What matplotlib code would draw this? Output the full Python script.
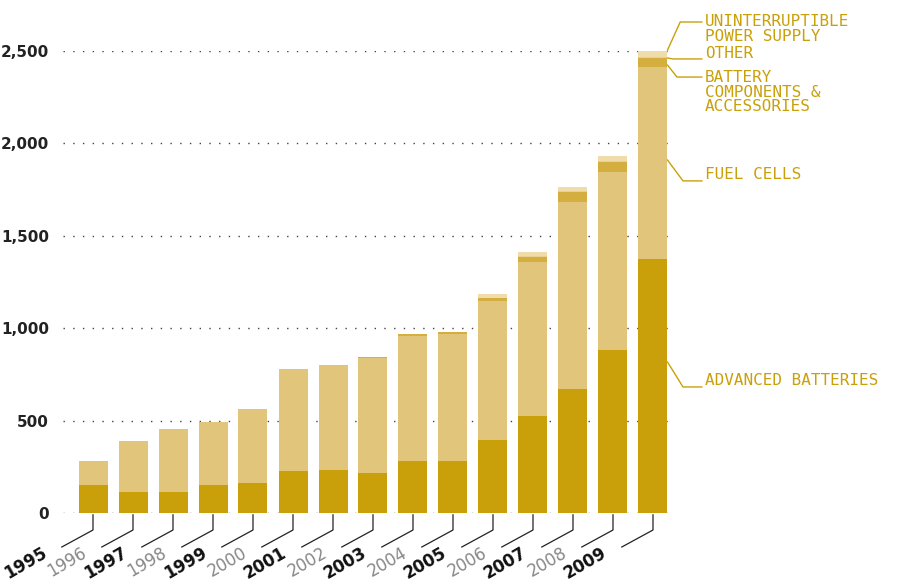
import matplotlib.pyplot as plt
import numpy as np

years = ['1995', '1996', '1997', '1998', '1999', '2000', '2001', '2002',
         '2003', '2004', '2005', '2006', '2007', '2008', '2009']
advanced = [151, 114, 114, 151, 162, 227, 233, 216, 281, 281, 395, 525, 671, 882, 1374]
fuel_cells = [130, 276, 341, 341, 401, 552, 568, 625, 676, 687, 752, 833, 1012, 963, 1039]
battery_comp = [0, 0, 0, 0, 0, 0, 0, 5, 12, 12, 15, 25, 52, 54, 47]
other = [0, 0, 0, 0, 0, 0, 0, 0, 0, 0, 4, 5, 5, 5, 5]
ups = [0, 0, 0, 0, 0, 0, 0, 0, 0, 0, 18, 25, 25, 27, 37]

series = [
    ('ADVANCED BATTERIES', advanced, '#c9a00a'),
    ('FUEL CELLS', fuel_cells, '#e0c57b'),
    ('BATTERY\nCOMPONENTS &\nACCESSORIES', battery_comp, '#d5ae40'),
    ('OTHER', other, '#e8d08f'),
    ('UNINTERRUPTIBLE\nPOWER SUPPLY', ups, '#f0dcab'),
]

# label leaders: start on bar edge, elbow y, text baseline (last line) y
leader_start = [817, 1910, 2424, 2462, 2505]
leader_elbow = [682, 1797, 2359, 2457, 2657]
leader_elbow_x = [14.75, 14.75, 14.6, 14.5, 14.68]
text_base = [690, 1805, 2175, 2460, 2556]

gold = '#c9a00a'
width = 0.725

fig = plt.figure(figsize=(9.14, 5.84), dpi=100)
ax = fig.add_axes([63 / 914, 71 / 584, 606 / 914, 462 / 584])

x = np.arange(len(years))
bottom = np.zeros(len(years))
for name, vals, col in series:
    ax.bar(x, vals, width, bottom=bottom, color=col, edgecolor='none', zorder=2)
    bottom += np.array(vals)

ax.set_xlim(-0.75, 14.4)
ax.set_ylim(0, 2500)
ax.set_yticks([0, 500, 1000, 1500, 2000, 2500])
ax.set_yticklabels(['0', '500', '1,000', '1,500', '2,000', '2,500'],
                   fontsize=11, fontweight='bold', color='#222222')
ax.tick_params(axis='y', length=0, pad=10)
ax.set_xticks([])
for s in ax.spines.values():
    s.set_visible(False)
ax.grid(axis='y', color='#444444', linestyle=(0, (1, 6)), linewidth=1, zorder=1)

# x labels with leaders
for i, yr in enumerate(years):
    ax.plot([i, i, i - 0.78], [-10, -92, -184], color='#222222', lw=0.9,
            clip_on=False)
    dark = i % 2 == 0
    ax.text(i - 1.3, -165, yr, rotation=30, rotation_mode='anchor',
            ha='right', va='top', fontsize=12,
            fontweight='bold' if dark else 'normal',
            color='#111111' if dark else '#888888', clip_on=False)

# right-hand labels
x_edge = 14 + width / 2
for k, (name, vals, col) in enumerate(series):
    ax.plot([x_edge, leader_elbow_x[k], 15.22],
            [leader_start[k], leader_elbow[k], leader_elbow[k]],
            color=gold, lw=1, clip_on=False)
    ax.text(15.3, text_base[k], name, ha='left', va='baseline',
            family='DejaVu Sans Mono', fontsize=11.5, color=gold,
            linespacing=0.95, clip_on=False)

fig.savefig('out.png', dpi=100)
